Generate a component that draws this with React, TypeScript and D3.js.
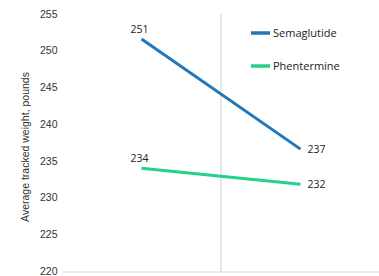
import React from "react";
import * as d3 from "d3";

const categories = ["Start", "End"];
const seriesNames = ["Semaglutide", "Phentermine"];
const semaglutide = [251.6, 236.6];
const phentermine = [234.0, 231.8];
const labels = [["251", "237"], ["234", "232"]];
const yTicks = [220, 225, 230, 235, 240, 245, 250, 255];
const colors = ["#2277b8", "#24d18a"];

export default function App() {
  const W = 379, H = 276;
  const x = d3.scaleBand<string>().domain(categories).range([62, 380]);
  const y = d3.scaleLinear().domain([220, 255]).range([271, 14]);
  const series = [semaglutide, phentermine];
  const line = d3.line<number>()
    .x((_, i) => (x(categories[i]) as number) + x.bandwidth() / 2)
    .y((d) => y(d));
  const boundary = x(categories[1]) as number;
  return (
    <svg width={W} height={H} style={{ position: "absolute", left: 0, top: 0, background: "#fff" }}>
      <line x1={boundary} x2={boundary} y1={14} y2={272} stroke="#d8d8dc" strokeWidth={1.2} />
      <line x1={62} x2={379} y1={272} y2={272} stroke="#d8d8dc" strokeWidth={1.2} />
      {yTicks.map((t) => (
        <text key={t} x={40} y={y(t)} dy="0.35em" fontFamily="Liberation Sans, Arial, sans-serif" fontSize={10.5} fill="#333">
          {t}
        </text>
      ))}
      <text
        transform={`translate(26,${147}) rotate(-90)`}
        textAnchor="middle"
        dominantBaseline="middle"
        fontFamily="Liberation Sans, Arial, sans-serif"
        fontSize={10.5}
        fill="#333"
      >
        Average tracked weight, pounds
      </text>
      {series.map((s, si) => (
        <path key={si} d={line(s) || ""} fill="none" stroke={colors[si]} strokeWidth={3} />
      ))}
      {series.map((s, si) =>
        s.map((v, i) => {
          const cx = (x(categories[i]) as number) + x.bandwidth() / 2;
          const isFirst = i === 0;
          return (
            <text
              key={`${si}-${i}`}
              x={isFirst ? cx - 2 : cx + 7}
              y={isFirst ? y(v) - 10 : y(v)}
              dy="0.35em"
              textAnchor={isFirst ? "middle" : "start"}
              fontFamily="Open Sans, sans-serif"
              fontSize={10.5}
              fill="#222"
            >
              {labels[si][i]}
            </text>
          );
        })
      )}
      {seriesNames.map((n, i) => (
        <g key={n} transform={`translate(251,${33 + i * 33})`}>
          <line x1={0} x2={19} y1={0} y2={0} stroke={colors[i]} strokeWidth={3.5} />
          <text x={22} y={0} dy="0.35em" fontFamily="Open Sans, sans-serif" fontSize={11} fill="#222">
            {n}
          </text>
        </g>
      ))}
    </svg>
  );
}
